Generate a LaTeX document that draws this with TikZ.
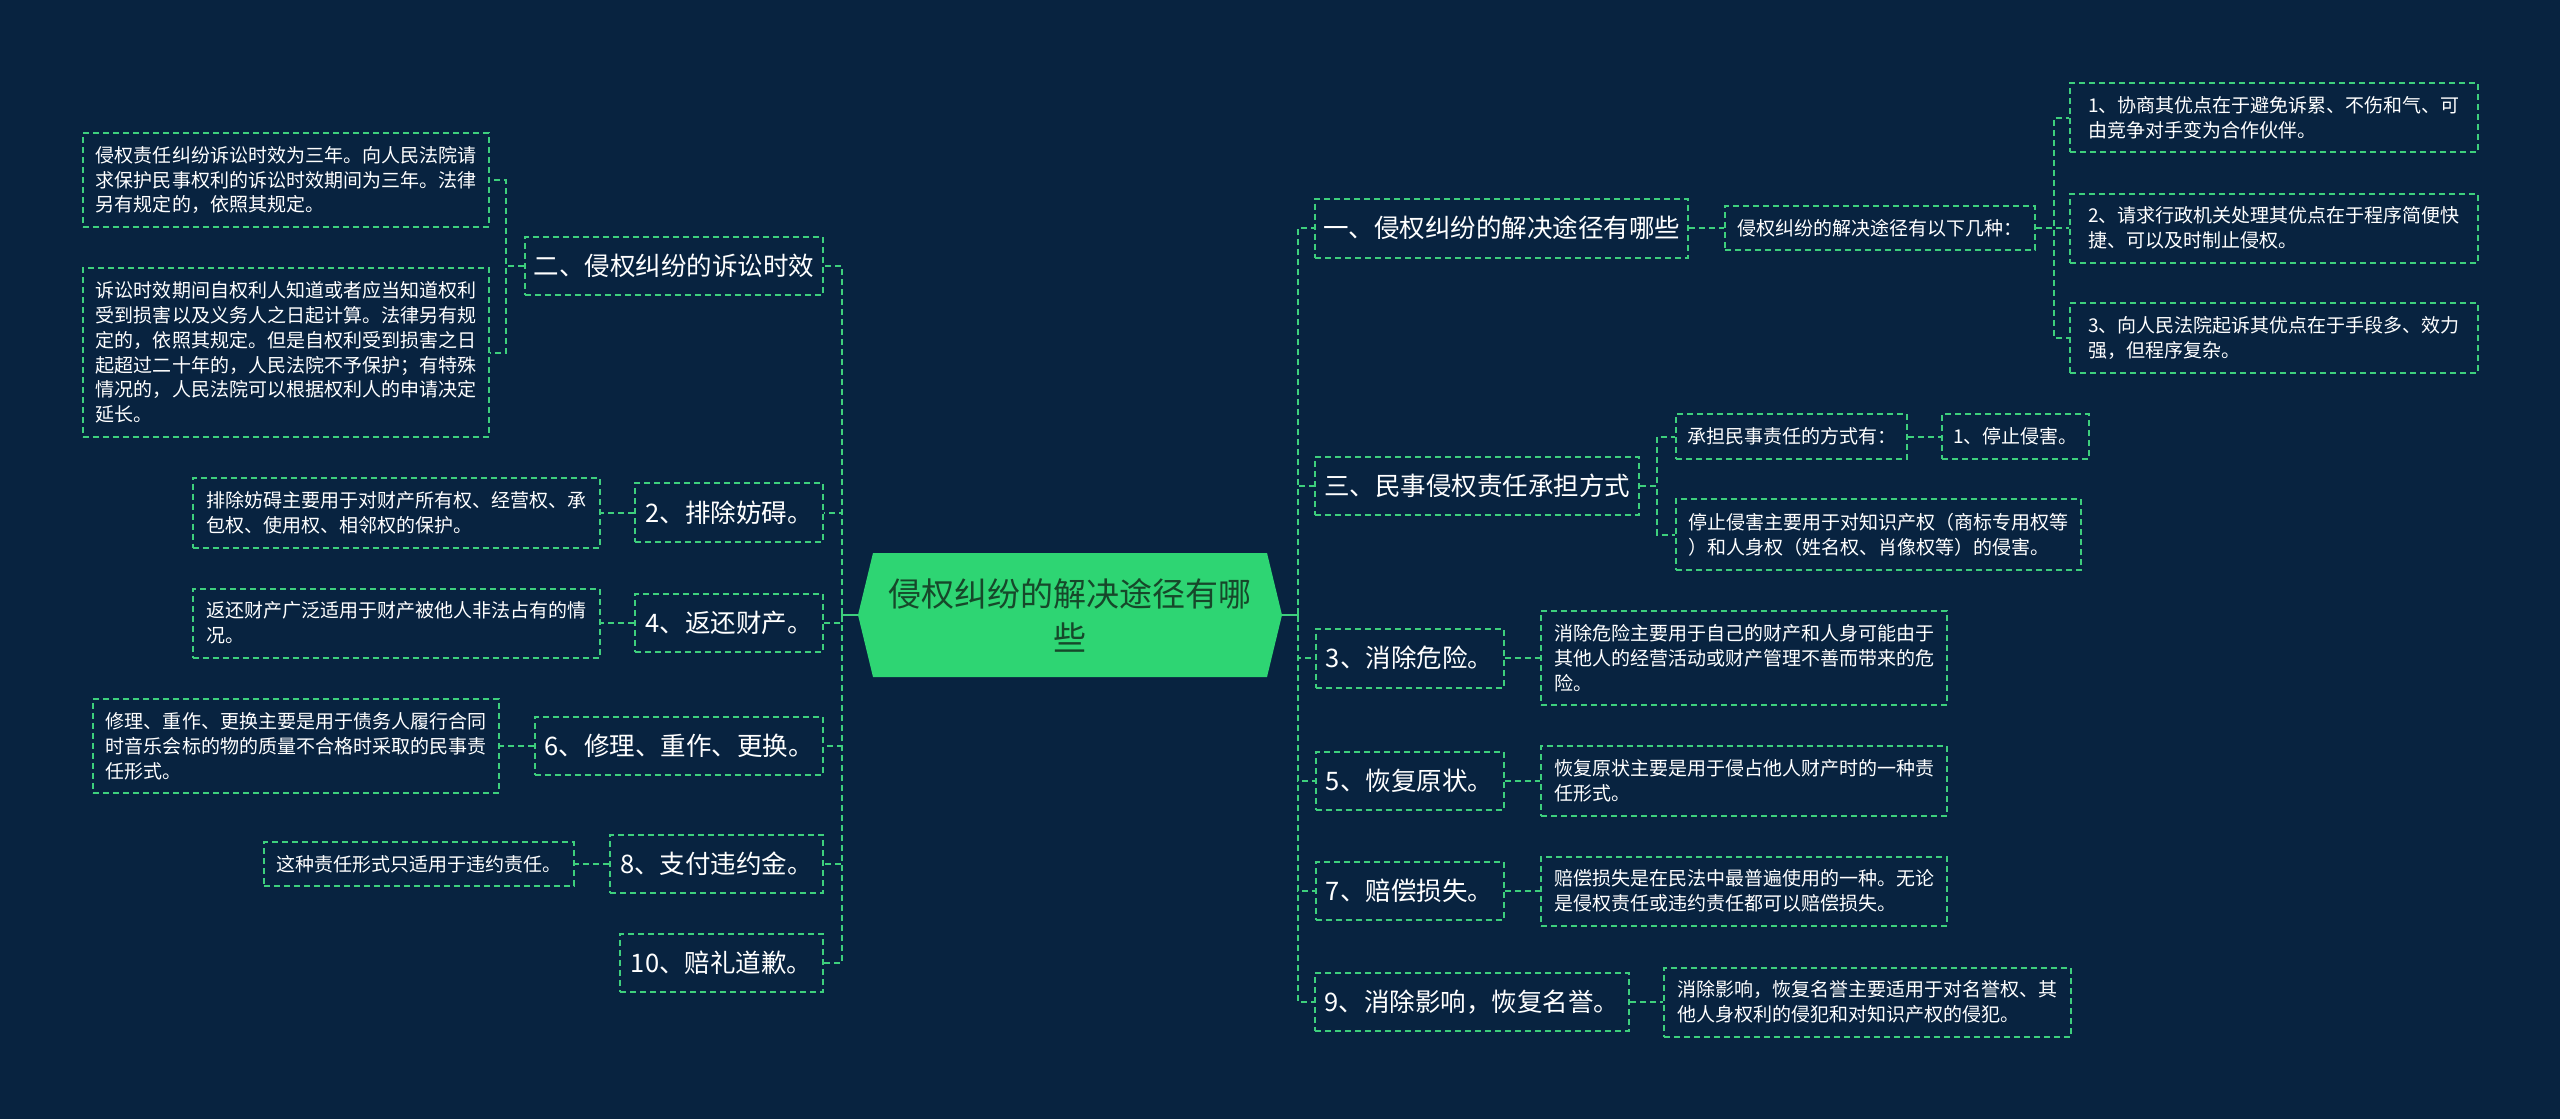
\documentclass[tikz,border=0pt]{standalone}
\usepackage{fontspec}
\setmainfont{Noto Sans CJK SC}
\definecolor{bgc}{RGB}{8,35,64}
\definecolor{lineg}{RGB}{62,207,125}
\definecolor{hexfill}{RGB}{46,213,115}
\definecolor{ctext}{RGB}{22,72,42}
\tikzset{
  box/.style={draw=lineg, dash pattern=on 6bp off 4bp, line width=2bp, inner sep=0pt, text=white, align=left},
  leaf/.style={box, font=\fontsize{19bp}{24.8bp}\selectfont},
  branch/.style={box, font=\fontsize{25.5bp}{30bp}\selectfont},
  sz/.style 2 args={minimum width=#1bp, minimum height=#2bp},
  conn/.style={draw=lineg, dash pattern=on 6bp off 4bp, line width=2bp},
  solidc/.style={draw=lineg, line width=2.5bp},
}
\begin{document}
\begin{tikzpicture}[x=1bp,y=-1bp]
\fill[bgc] (0,0) rectangle (2560,1119);
\useasboundingbox (0,0) rectangle (2560,1119);

% center
\node (c) [sz={424}{124}, inner sep=0pt, align=center, text=ctext,
  font=\fontsize{33bp}{44bp}\selectfont,
  path picture={\fill[hexfill] (path picture bounding box.west) -- ([xshift=15bp]path picture bounding box.north west) -- ([xshift=-15bp]path picture bounding box.north east) -- (path picture bounding box.east) -- ([xshift=-15bp]path picture bounding box.south east) -- ([xshift=15bp]path picture bounding box.south west) -- cycle;}]
  at (1070,615) {侵权纠纷的解决途径有哪\\些};

\coordinate (tl) at (842,615);
\coordinate (tr) at (1298,615);

% left side
\node (n2) [branch, sz={298}{58}] at (674,266) {二、侵权纠纷的诉讼时效};
\node (nA) [leaf, sz={406}{94}] at (286,180) {侵权责任纠纷诉讼时效为三年。向人民法院请\\求保护民事权利的诉讼时效期间为三年。法律\\另有规定的，依照其规定。};
\node (nB) [leaf, sz={406}{169}] at (286,352.5) {诉讼时效期间自权利人知道或者应当知道权利\\受到损害以及义务人之日起计算。法律另有规\\定的，依照其规定。但是自权利受到损害之日\\起超过二十年的，人民法院不予保护；有特殊\\情况的，人民法院可以根据权利人的申请决定\\延长。};
\node (b2) [branch, sz={188}{59}] at (729,512.5) {2、排除妨碍。};
\node (d2) [leaf, sz={407}{70}] at (396,512.5) {排除妨碍主要用于对财产所有权、经营权、承\\包权、使用权、相邻权的保护。};
\node (b4) [branch, sz={188}{58}] at (729,623) {4、返还财产。};
\node (d4) [leaf, sz={407}{69}] at (396,623) {返还财产广泛适用于财产被他人非法占有的情\\况。};
\node (b6) [branch, sz={288}{58}] at (679,746) {6、修理、重作、更换。};
\node (d6) [leaf, sz={406}{94}] at (296,746) {修理、重作、更换主要是用于债务人履行合同\\时音乐会标的物的质量不合格时采取的民事责\\任形式。};
\node (b8) [branch, sz={213}{58}] at (716.5,864) {8、支付违约金。};
\node (d8) [leaf, sz={310}{44}] at (419,864) {这种责任形式只适用于违约责任。};
\node (b10) [branch, sz={203}{58}] at (721.5,963) {10、赔礼道歉。};

% right side
\node (r1) [branch, sz={373}{59}] at (1501.5,228) {一、侵权纠纷的解决途径有哪些};
\node (r1a) [leaf, sz={310}{44}] at (1880,228) {侵权纠纷的解决途径有以下几种：};
\node (c1) [leaf, sz={408}{69}] at (2274,117.5) {1、协商其优点在于避免诉累、不伤和气、可\\由竞争对手变为合作伙伴。};
\node (c2) [leaf, sz={408}{69}] at (2274,228) {2、请求行政机关处理其优点在于程序简便快\\捷、可以及时制止侵权。};
\node (c3) [leaf, sz={408}{70}] at (2274,338) {3、向人民法院起诉其优点在于手段多、效力\\强，但程序复杂。};
\node (r3) [branch, sz={324}{58}] at (1477,486) {三、民事侵权责任承担方式};
\node (r3a) [leaf, sz={231}{45}] at (1791.5,436.5) {承担民事责任的方式有：};
\node (r3a1) [leaf, sz={147}{45}] at (2015.5,436.5) {1、停止侵害。};
\node (r3b) [leaf, sz={405}{71}] at (1878.5,534.5) {停止侵害主要用于对知识产权（商标专用权等\\）和人身权（姓名权、肖像权等）的侵害。};
\node (r5) [branch, sz={188}{59}] at (1409.5,658) {3、消除危险。};
\node (r5d) [leaf, sz={406}{94}] at (1744,658) {消除危险主要用于自己的财产和人身可能由于\\其他人的经营活动或财产管理不善而带来的危\\险。};
\node (r6) [branch, sz={188}{58}] at (1409.5,781) {5、恢复原状。};
\node (r6d) [leaf, sz={406}{70}] at (1744,781) {恢复原状主要是用于侵占他人财产时的一种责\\任形式。};
\node (r7) [branch, sz={188}{58}] at (1409.5,891) {7、赔偿损失。};
\node (r7d) [leaf, sz={406}{69}] at (1744,891) {赔偿损失是在民法中最普遍使用的一种。无论\\是侵权责任或违约责任都可以赔偿损失。};
\node (r8) [branch, sz={314}{58}] at (1472,1002) {9、消除影响，恢复名誉。};
\node (r8d) [leaf, sz={407}{69}] at (1867.5,1002) {消除影响，恢复名誉主要适用于对名誉权、其\\他人身权利的侵犯和对知识产权的侵犯。};

% center to trunks
\draw[solidc] (c.west) -- (tl);
\draw[solidc] (c.east) -- (tr);
\draw[solidc] ([yshift=7bp]tl) -- ([yshift=-7bp]tl);
\draw[solidc] ([yshift=7bp]tr) -- ([yshift=-7bp]tr);

% left connectors
\foreach \n in {n2,b2,b4,b6,b8,b10} \draw[conn] (tl) |- (\n.east);
\draw[conn] (n2.west) -- ++(-18,0) |- (nA.east);
\draw[conn] (n2.west) -- ++(-18,0) |- (nB.east);
\draw[conn] (b2.west) -- (d2.east);
\draw[conn] (b4.west) -- (d4.east);
\draw[conn] (b6.west) -- (d6.east);
\draw[conn] (b8.west) -- (d8.east);

% right connectors
\foreach \n in {r1,r3,r5,r6,r7,r8} \draw[conn] (tr) |- (\n.west);
\draw[conn] (r1.east) -- (r1a.west);
\foreach \n in {c1,c2,c3} \draw[conn] (r1a.east) -- ++(18,0) |- (\n.west);
\draw[conn] (r3.east) -- ++(17,0) |- (r3a.west);
\draw[conn] (r3.east) -- ++(17,0) |- (r3b.west);
\draw[conn] (r3a.east) -- (r3a1.west);
\draw[conn] (r5.east) -- (r5d.west);
\draw[conn] (r6.east) -- (r6d.west);
\draw[conn] (r7.east) -- (r7d.west);
\draw[conn] (r8.east) -- (r8d.west);
\end{tikzpicture}
\end{document}
